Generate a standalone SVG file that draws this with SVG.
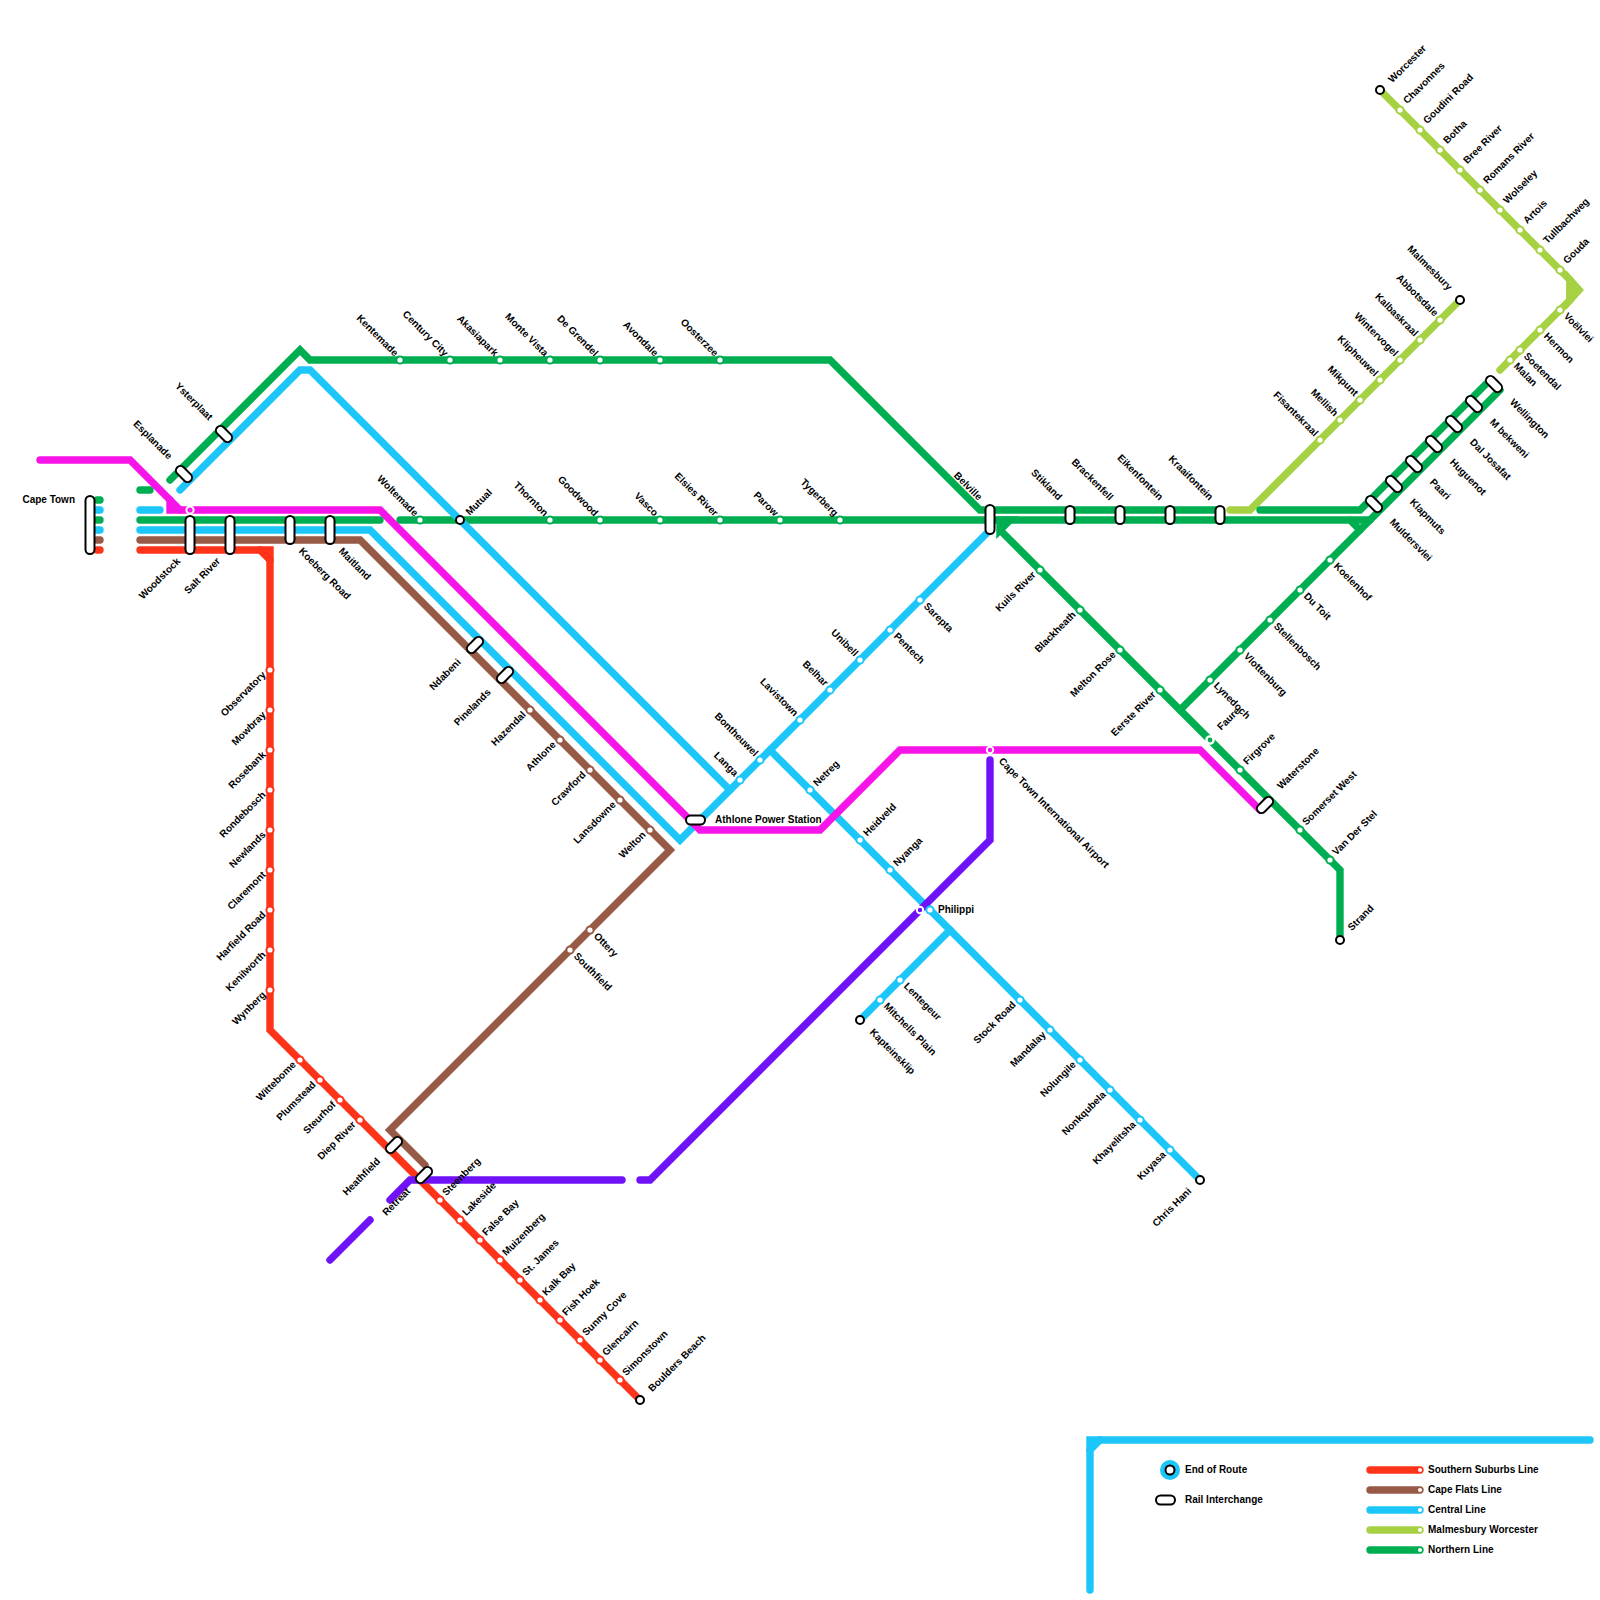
<svg xmlns="http://www.w3.org/2000/svg" width="1600" height="1600" viewBox="0 0 1600 1600">
<style>
text{font-family:"Liberation Sans",Arial,sans-serif;font-size:10px;font-weight:700;fill:#000;stroke:none;dominant-baseline:middle}
.e{text-anchor:end}
.l{fill:none;stroke-width:7.4;stroke-linecap:round;stroke-linejoin:miter}
.lime{stroke:#a5d143}.green{stroke:#00ae52}.blue{stroke:#1cc6f8}.brown{stroke:#965a46}.red{stroke:#ff331a}.mag{stroke:#f714e8}.pur{stroke:#7012f7}
.s{fill:#fff;stroke-width:2;r:3.6px}
.d{fill:#fff}
.t{fill:#fff;stroke:#000;stroke-width:2}
.p{fill:#fff;stroke:#000;stroke-width:2}
</style>
<rect width="1600" height="1600" fill="#fff"/>
<g id="connectors">
<path class="l lime" d="M1380 90L1570 280V300L1500 370"/>
<path class="l lime" d="M1570 280L1579 290L1570 300Z"/>
<path class="l lime" d="M1460 300L1250 510H1230"/>
<path class="l green" d="M170 480L300 350L310 360H830L980 510H1220"/>
<path class="l green" d="M1260 510H1360L1490 380"/>
<path class="l green" d="M400 520H1370M1350 520L1360 530"/>
<path class="l green" d="M140 520H380"/>
<path class="l green" d="M140 490H150"/>
<path class="l green" d="M1000 520V530L1010 520ZM1000 530L1340 870V940"/>
<path class="l green" d="M1180 710L1370 520L1500 390"/>
<path class="l blue" d="M180 490L300 370H310L730 790"/>
<path class="l blue" d="M140 530H370L680 840L990 530"/>
<path class="l blue" d="M140 510H160"/>
<path class="l blue" d="M770 750L1200 1180"/>
<path class="l blue" d="M950 930L860 1020"/>
<path class="l blue" d="M1090 1590V1440H1590"/>
<path class="l blue" d="M1090 1450L1100 1440"/>
<path class="l brown" d="M140 540H360L670 850L390 1130L425 1165"/>
<path class="l red" d="M140 550H270V1030L640 1400"/>
<path class="l red" d="M260 550L270 560"/>
<path class="l mag" d="M40 460H130L170 500V510H380L690 820L700 830H820L900 750H1200L1260 810"/>
<path class="l mag" d="M170 500L180 510"/>
<path class="l pur" d="M990 760V840L650 1180H640"/>
<path class="l pur" d="M622 1180H430"/>
<path class="l pur" d="M390 1200L410 1180H425"/>
<path class="l pur" d="M370 1220L330 1260"/>
<path class="l green" d="M97 500H100M97 520H100"/>
<path class="l blue" d="M97 510H100M97 530H100"/>
<path class="l brown" d="M97 540H100"/>
<path class="l red" d="M97 550H100"/>
</g>
<g id="cape-town"><rect class="p" x="85.5" y="496" width="9" height="58" rx="4.5"/><text class="e" x="75" y="500">Cape Town</text></g>
<g id="woodstock"><circle cx="190" cy="510" r="3.6" fill="#f714e8" stroke="#fff" stroke-width="2"/><rect class="p" x="185.5" y="516" width="9" height="38" rx="4.5"/><text class="e" transform="translate(179 560) rotate(-45)">Woodstock</text></g>
<g id="salt-river"><rect class="p" x="225.5" y="516" width="9" height="38" rx="4.5"/><text class="e" transform="translate(219 560) rotate(-45)">Salt River</text></g>
<g id="koeberg-road"><rect class="p" x="285.5" y="516" width="9" height="28" rx="4.5"/><text transform="translate(300 550) rotate(45)">Koeberg Road</text></g>
<g id="maitland"><rect class="p" x="325.5" y="516" width="9" height="28" rx="4.5"/><text transform="translate(340 550) rotate(45)">Maitland</text></g>
<g id="esplanade"><rect class="p" transform="translate(184 474) rotate(-45)" x="-4.5" y="-9.5" width="9" height="19" rx="4.5"/><text class="e" transform="translate(170 458) rotate(45)">Esplanade</text></g>
<g id="ysterplaat"><rect class="p" transform="translate(224 434) rotate(-45)" x="-4.5" y="-9.5" width="9" height="19" rx="4.5"/><text class="e" transform="translate(210.5 419) rotate(45)">Ysterplaat</text></g>
<g id="stations-northern-top" stroke="#00ae52">
<g id="kentemade"><circle class="s" cx="400" cy="360" r="3"/><text class="e" transform="translate(396 355) rotate(45)">Kentemade</text></g>
<g id="century-city"><circle class="s" cx="450" cy="360" r="3"/><text class="e" transform="translate(446 355) rotate(45)">Century City</text></g>
<g id="akasiapark"><circle class="s" cx="500" cy="360" r="3"/><text class="e" transform="translate(496 355) rotate(45)">Akasiapark</text></g>
<g id="monte-vista"><circle class="s" cx="550" cy="360" r="3"/><text class="e" transform="translate(546 355) rotate(45)">Monte Vista</text></g>
<g id="de-grendel"><circle class="s" cx="600" cy="360" r="3"/><text class="e" transform="translate(596 355) rotate(45)">De Grendel</text></g>
<g id="avondale"><circle class="s" cx="660" cy="360" r="3"/><text class="e" transform="translate(656 355) rotate(45)">Avondale</text></g>
<g id="oosterzee"><circle class="s" cx="720" cy="360" r="3"/><text class="e" transform="translate(716 355) rotate(45)">Oosterzee</text></g>
</g>
<g id="stations-northern-main" stroke="#00ae52">
<g id="woltemade"><circle class="s" cx="420" cy="520" r="3"/><text class="e" transform="translate(416 515) rotate(45)">Woltemade</text></g>
<g id="mutual"><circle class="t" cx="460" cy="520" r="4"/><text transform="translate(468 514) rotate(-45)">Mutual</text></g>
<g id="thornton"><circle class="s" cx="550" cy="520" r="3"/><text class="e" transform="translate(546 515) rotate(45)">Thornton</text></g>
<g id="goodwood"><circle class="s" cx="600" cy="520" r="3"/><text class="e" transform="translate(596 515) rotate(45)">Goodwood</text></g>
<g id="vasco"><circle class="s" cx="660" cy="520" r="3"/><text class="e" transform="translate(656 515) rotate(45)">Vasco</text></g>
<g id="elsies-river"><circle class="s" cx="720" cy="520" r="3"/><text class="e" transform="translate(716 515) rotate(45)">Elsies River</text></g>
<g id="parow"><circle class="s" cx="780" cy="520" r="3"/><text class="e" transform="translate(776 515) rotate(45)">Parow</text></g>
<g id="tygerberg"><circle class="s" cx="840" cy="520" r="3"/><text class="e" transform="translate(836 515) rotate(45)">Tygerberg</text></g>
<g id="belville"><rect class="p" x="985.5" y="505" width="9" height="29" rx="4.5"/><text class="e" transform="translate(980 499) rotate(45)">Belville</text></g>
<g id="stikland"><rect class="p" x="1065.5" y="506" width="9" height="18" rx="4.5"/><text class="e" transform="translate(1060 499) rotate(45)">Stikland</text></g>
<g id="brackenfell"><rect class="p" x="1115.5" y="506" width="9" height="18" rx="4.5"/><text class="e" transform="translate(1111 499) rotate(45)">Brackenfell</text></g>
<g id="eikenfontein"><rect class="p" x="1165.5" y="506" width="9" height="18" rx="4.5"/><text class="e" transform="translate(1161 499) rotate(45)">Eikenfontein</text></g>
<g id="kraaifontein"><rect class="p" x="1215.5" y="506" width="9" height="18" rx="4.5"/><text class="e" transform="translate(1211 499) rotate(45)">Kraaifontein</text></g>
</g>
<g id="stations-paarl">
<g id="muldersvlei"><rect class="p" transform="translate(1374 504) rotate(-45)" x="-4.5" y="-9.5" width="9" height="19" rx="4.5"/><text transform="translate(1391 521) rotate(45)">Muldersvlei</text></g>
<g id="klapmuts"><rect class="p" transform="translate(1394 484) rotate(-45)" x="-4.5" y="-9.5" width="9" height="19" rx="4.5"/><text transform="translate(1411 501) rotate(45)">Klapmuts</text></g>
<g id="paari"><rect class="p" transform="translate(1414 464) rotate(-45)" x="-4.5" y="-9.5" width="9" height="19" rx="4.5"/><text transform="translate(1431 481) rotate(45)">Paari</text></g>
<g id="huguenot"><rect class="p" transform="translate(1434 444) rotate(-45)" x="-4.5" y="-9.5" width="9" height="19" rx="4.5"/><text transform="translate(1451 461) rotate(45)">Huguenot</text></g>
<g id="dal-josafat"><rect class="p" transform="translate(1454 424) rotate(-45)" x="-4.5" y="-9.5" width="9" height="19" rx="4.5"/><text transform="translate(1471 441) rotate(45)">Dal Josafat</text></g>
<g id="m-bekweni"><rect class="p" transform="translate(1474 404) rotate(-45)" x="-4.5" y="-9.5" width="9" height="19" rx="4.5"/><text transform="translate(1491 421) rotate(45)">M bekweni</text></g>
<g id="wellington"><rect class="p" transform="translate(1494 384) rotate(-45)" x="-4.5" y="-9.5" width="9" height="19" rx="4.5"/><text transform="translate(1511 401) rotate(45)">Wellington</text></g>
</g>
<g id="stations-strand" stroke="#00ae52">
<g id="kuils-river"><circle class="s" cx="1040" cy="570" r="3"/><text class="e" transform="translate(1034.5 573.5) rotate(-45)">Kuils River</text></g>
<g id="blackheath"><circle class="s" cx="1080" cy="610" r="3"/><text class="e" transform="translate(1074.5 613.5) rotate(-45)">Blackheath</text></g>
<g id="melton-rose"><circle class="s" cx="1120" cy="650" r="3"/><text class="e" transform="translate(1114.5 653.5) rotate(-45)">Melton Rose</text></g>
<g id="eerste-river"><circle class="s" cx="1160" cy="690" r="3"/><text class="e" transform="translate(1154.5 693.5) rotate(-45)">Eerste River</text></g>
<g id="faure"><circle cx="1210" cy="740" r="3.6" fill="#00ae52" stroke="#fff" stroke-width="2.4"/><text transform="translate(1219.5 729) rotate(-45)">Faure</text></g>
<g id="firgrove"><circle class="s" cx="1240" cy="770" r="3"/><text transform="translate(1245.5 763.5) rotate(-45)">Firgrove</text></g>
<g id="waterstone"><rect class="p" transform="translate(1265 805) rotate(45)" x="-4.5" y="-9.5" width="9" height="19" rx="4.5"/><text transform="translate(1279.5 788) rotate(-45)">Waterstone</text></g>
<g id="somerset-west"><circle class="s" cx="1300" cy="830" r="3"/><text transform="translate(1304.5 824) rotate(-45)">Somerset West</text></g>
<g id="van-der-stel"><circle class="s" cx="1330" cy="860" r="3"/><text transform="translate(1334.5 854) rotate(-45)">Van Der Stel</text></g>
<g id="strand"><circle class="t" cx="1340" cy="940" r="4"/><text transform="translate(1350 929.5) rotate(-45)">Strand</text></g>
<g id="lynedoch"><circle class="s" cx="1210" cy="680" r="3"/><text transform="translate(1215 684.5) rotate(45)">Lynedoch</text></g>
<g id="vlottenburg"><circle class="s" cx="1240" cy="650" r="3"/><text transform="translate(1245 655) rotate(45)">Vlottenburg</text></g>
<g id="stellenbosch"><circle class="s" cx="1270" cy="620" r="3"/><text transform="translate(1275 625) rotate(45)">Stellenbosch</text></g>
<g id="du-toit"><circle class="s" cx="1300" cy="590" r="3"/><text transform="translate(1305 595) rotate(45)">Du Toit</text></g>
<g id="koelenhof"><circle class="s" cx="1330" cy="560" r="3"/><text transform="translate(1335 565) rotate(45)">Koelenhof</text></g>
</g>
<g id="stations-malmesbury" stroke="#a5d143">
<g id="malmesbury"><circle class="t" cx="1460" cy="300" r="4"/><text class="e" transform="translate(1450 289) rotate(45)">Malmesbury</text></g>
<g id="abbotsdale"><circle class="s" cx="1440" cy="320" r="3"/><text class="e" transform="translate(1436 315) rotate(45)">Abbotsdale</text></g>
<g id="kalbaskraal"><circle class="s" cx="1420" cy="340" r="3"/><text class="e" transform="translate(1416 335) rotate(45)">Kalbaskraal</text></g>
<g id="wintervogel"><circle class="s" cx="1400" cy="360" r="3"/><text class="e" transform="translate(1396 355) rotate(45)">Wintervogel</text></g>
<g id="klipheuwel"><circle class="s" cx="1380" cy="380" r="3"/><text class="e" transform="translate(1376 375) rotate(45)">Klipheuwel</text></g>
<g id="mikpunt"><circle class="s" cx="1360" cy="400" r="3"/><text class="e" transform="translate(1356 395) rotate(45)">Mikpunt</text></g>
<g id="mellish"><circle class="s" cx="1340" cy="420" r="3"/><text class="e" transform="translate(1336 415) rotate(45)">Mellish</text></g>
<g id="fisantekraal"><circle class="s" cx="1320" cy="440" r="3"/><text class="e" transform="translate(1316 435) rotate(45)">Fisantekraal</text></g>
</g>
<g id="stations-worcester" stroke="#a5d143">
<g id="worcester"><circle class="t" cx="1380" cy="90" r="4"/><text transform="translate(1390.5 81.5) rotate(-45)">Worcester</text></g>
<g id="chavonnes"><circle class="s" cx="1400" cy="110" r="3"/><text transform="translate(1405.5 102.5) rotate(-45)">Chavonnes</text></g>
<g id="goudini-road"><circle class="s" cx="1420" cy="130" r="3"/><text transform="translate(1425.5 122.5) rotate(-45)">Goudini Road</text></g>
<g id="botha"><circle class="s" cx="1440" cy="150" r="3"/><text transform="translate(1445.5 142.5) rotate(-45)">Botha</text></g>
<g id="bree-river"><circle class="s" cx="1460" cy="170" r="3"/><text transform="translate(1465.5 162.5) rotate(-45)">Bree River</text></g>
<g id="romans-river"><circle class="s" cx="1480" cy="190" r="3"/><text transform="translate(1485.5 182.5) rotate(-45)">Romans River</text></g>
<g id="wolseley"><circle class="s" cx="1500" cy="210" r="3"/><text transform="translate(1505.5 202.5) rotate(-45)">Wolseley</text></g>
<g id="artois"><circle class="s" cx="1520" cy="230" r="3"/><text transform="translate(1525.5 222.5) rotate(-45)">Artois</text></g>
<g id="tulbachweg"><circle class="s" cx="1540" cy="250" r="3"/><text transform="translate(1545.5 242.5) rotate(-45)">Tullbachweg</text></g>
<g id="gouda"><circle class="s" cx="1560" cy="270" r="3"/><text transform="translate(1565.5 262.5) rotate(-45)">Gouda</text></g>
<g id="voelvlei"><circle class="s" cx="1560" cy="310" r="3"/><text transform="translate(1565 315) rotate(45)">Voëlvlei</text></g>
<g id="hermon"><circle class="s" cx="1540" cy="330" r="3"/><text transform="translate(1545 335) rotate(45)">Hermon</text></g>
<g id="soetendal"><circle class="s" cx="1520" cy="350" r="3"/><text transform="translate(1525 355) rotate(45)">Soetendal</text></g>
<g id="malan"><circle class="s" cx="1510" cy="360" r="3"/><text transform="translate(1515 365) rotate(45)">Malan</text></g>
</g>
<g id="stations-central" stroke="#1cc6f8">
<g id="ndabeni"><rect class="p" transform="translate(475 645) rotate(45)" x="-4.5" y="-9.5" width="9" height="19" rx="4.5"/><text class="e" transform="translate(459.5 661) rotate(-45)">Ndabeni</text></g>
<g id="pinelands"><rect class="p" transform="translate(505 675) rotate(45)" x="-4.5" y="-9.5" width="9" height="19" rx="4.5"/><text class="e" transform="translate(489.5 691) rotate(-45)">Pinelands</text></g>
<g id="athlone-power"><rect class="p" x="686" y="815.5" width="19" height="9" rx="4.5"/><text x="715" y="820">Athlone Power Station</text></g>
<g id="langa"><circle class="s" cx="740" cy="780" r="3"/><text class="e" transform="translate(736 775) rotate(45)">Langa</text></g>
<g id="bontheuwel"><circle class="s" cx="760" cy="760" r="3"/><text class="e" transform="translate(756 755) rotate(45)">Bontheuwel</text></g>
<g id="lavistown"><circle class="s" cx="800" cy="720" r="3"/><text class="e" transform="translate(796 715) rotate(45)">Lavistown</text></g>
<g id="belhar"><circle class="s" cx="830" cy="690" r="3"/><text class="e" transform="translate(826 685) rotate(45)">Belhar</text></g>
<g id="unibell"><circle class="s" cx="860" cy="660" r="3"/><text class="e" transform="translate(856 655) rotate(45)">Unibell</text></g>
<g id="pentech"><circle class="s" cx="890" cy="630" r="3"/><text transform="translate(895 635) rotate(45)">Pentech</text></g>
<g id="sarepta"><circle class="s" cx="920" cy="600" r="3"/><text transform="translate(925 605) rotate(45)">Sarepta</text></g>
<g id="netreg"><circle class="s" cx="810" cy="790" r="3"/><text transform="translate(815.5 785) rotate(-45)">Netreg</text></g>
<g id="heideveld"><circle class="s" cx="860" cy="840" r="3"/><text transform="translate(865.5 835) rotate(-45)">Heidveld</text></g>
<g id="nyanga"><circle class="s" cx="890" cy="870" r="3"/><text transform="translate(895.5 865) rotate(-45)">Nyanga</text></g>
<g id="philippi"><circle cx="920" cy="910" r="3.2" fill="#7012f7" stroke="#fff" stroke-width="2"/><circle class="s" cx="930" cy="910" r="3"/><text x="938" y="910">Philippi</text></g>
<g id="stock-road"><circle class="s" cx="1020" cy="1000" r="3"/><text class="e" transform="translate(1014.5 1003.5) rotate(-45)">Stock Road</text></g>
<g id="mandalay"><circle class="s" cx="1050" cy="1030" r="3"/><text class="e" transform="translate(1044.5 1033.5) rotate(-45)">Mandalay</text></g>
<g id="nolungile"><circle class="s" cx="1080" cy="1060" r="3"/><text class="e" transform="translate(1074.5 1063.5) rotate(-45)">Nolungile</text></g>
<g id="nonkqubela"><circle class="s" cx="1110" cy="1090" r="3"/><text class="e" transform="translate(1104.5 1093.5) rotate(-45)">Nonkqubela</text></g>
<g id="khayelitsha"><circle class="s" cx="1140" cy="1120" r="3"/><text class="e" transform="translate(1134.5 1123.5) rotate(-45)">Khayelitsha</text></g>
<g id="kuyasa"><circle class="s" cx="1170" cy="1150" r="3"/><text class="e" transform="translate(1164.5 1153.5) rotate(-45)">Kuyasa</text></g>
<g id="chris-hani"><circle class="t" cx="1200" cy="1180" r="4"/><text class="e" transform="translate(1190 1190) rotate(-45)">Chris Hani</text></g>
<g id="lentegeur"><circle class="s" cx="900" cy="980" r="3"/><text transform="translate(905 985) rotate(45)">Lentegeur</text></g>
<g id="mitchells-plain"><circle class="s" cx="880" cy="1000" r="3"/><text transform="translate(885 1005) rotate(45)">Mitchells Plain</text></g>
<g id="kapteinsklip"><circle class="t" cx="860" cy="1020" r="4"/><text transform="translate(871 1031) rotate(45)">Kapteinsklip</text></g>
</g>
<g id="stations-flats" stroke="#965a46">
<g id="hazendal"><circle class="s" cx="530" cy="710" r="3"/><text class="e" transform="translate(524.5 713.5) rotate(-45)">Hazendal</text></g>
<g id="athlone"><circle class="s" cx="560" cy="740" r="3"/><text class="e" transform="translate(554.5 743.5) rotate(-45)">Athlone</text></g>
<g id="crawford"><circle class="s" cx="590" cy="770" r="3"/><text class="e" transform="translate(584.5 773.5) rotate(-45)">Crawford</text></g>
<g id="lansdowne"><circle class="s" cx="620" cy="800" r="3"/><text class="e" transform="translate(614.5 803.5) rotate(-45)">Lansdowne</text></g>
<g id="welton"><circle class="s" cx="650" cy="830" r="3"/><text class="e" transform="translate(644.5 833.5) rotate(-45)">Welton</text></g>
<g id="ottery"><circle class="s" cx="590" cy="930" r="3"/><text transform="translate(595 935) rotate(45)">Ottery</text></g>
<g id="southfield"><circle class="s" cx="570" cy="950" r="3"/><text transform="translate(575 955) rotate(45)">Southfield</text></g>
</g>
<g id="stations-southern" stroke="#ff331a">
<g id="observatory"><circle class="s" cx="270" cy="670" r="3"/><text class="e" transform="translate(264.5 673.5) rotate(-45)">Observatory</text></g>
<g id="mowbray"><circle class="s" cx="270" cy="710" r="3"/><text class="e" transform="translate(264.5 713.5) rotate(-45)">Mowbray</text></g>
<g id="rosebank"><circle class="s" cx="270" cy="750" r="3"/><text class="e" transform="translate(264.5 753.5) rotate(-45)">Rosebank</text></g>
<g id="rondebosch"><circle class="s" cx="270" cy="790" r="3"/><text class="e" transform="translate(264.5 793.5) rotate(-45)">Rondebosch</text></g>
<g id="newlands"><circle class="s" cx="270" cy="830" r="3"/><text class="e" transform="translate(264.5 833.5) rotate(-45)">Newlands</text></g>
<g id="claremont"><circle class="s" cx="270" cy="870" r="3"/><text class="e" transform="translate(264.5 873.5) rotate(-45)">Claremont</text></g>
<g id="harfield-road"><circle class="s" cx="270" cy="910" r="3"/><text class="e" transform="translate(264.5 913.5) rotate(-45)">Harfield Road</text></g>
<g id="kenilworth"><circle class="s" cx="270" cy="950" r="3"/><text class="e" transform="translate(264.5 953.5) rotate(-45)">Kenilworth</text></g>
<g id="wynberg"><circle class="s" cx="270" cy="990" r="3"/><text class="e" transform="translate(264.5 993.5) rotate(-45)">Wynberg</text></g>
<g id="wittebome"><circle class="s" cx="300" cy="1060" r="3"/><text class="e" transform="translate(294.5 1063.5) rotate(-45)">Wittebome</text></g>
<g id="plumstead"><circle class="s" cx="320" cy="1080" r="3"/><text class="e" transform="translate(314.5 1083.5) rotate(-45)">Plumstead</text></g>
<g id="steurhof"><circle class="s" cx="340" cy="1100" r="3"/><text class="e" transform="translate(334.5 1103.5) rotate(-45)">Steurhof</text></g>
<g id="diep-river"><circle class="s" cx="360" cy="1120" r="3"/><text class="e" transform="translate(354.5 1123.5) rotate(-45)">Diep River</text></g>
<g id="heathfield"><rect class="p" transform="translate(394 1145) rotate(45)" x="-4.5" y="-9.5" width="9" height="19" rx="4.5"/><text class="e" transform="translate(379 1160) rotate(-45)">Heathfield</text></g>
<g id="retreat"><rect class="p" transform="translate(424 1175) rotate(45)" x="-4.5" y="-9.5" width="9" height="19" rx="4.5"/><text class="e" transform="translate(409 1190) rotate(-45)">Retreat</text></g>
<g id="steenberg"><circle class="s" cx="440" cy="1200" r="3"/><text transform="translate(444.5 1194.5) rotate(-45)">Steenberg</text></g>
<g id="lakeside"><circle class="s" cx="460" cy="1220" r="3"/><text transform="translate(464.5 1214.5) rotate(-45)">Lakeside</text></g>
<g id="false-bay"><circle class="s" cx="480" cy="1240" r="3"/><text transform="translate(484.5 1234.5) rotate(-45)">False Bay</text></g>
<g id="muizenberg"><circle class="s" cx="500" cy="1260" r="3"/><text transform="translate(504.5 1254.5) rotate(-45)">Muizenberg</text></g>
<g id="st-james"><circle class="s" cx="520" cy="1280" r="3"/><text transform="translate(524.5 1274.5) rotate(-45)">St. James</text></g>
<g id="kalk-bay"><circle class="s" cx="540" cy="1300" r="3"/><text transform="translate(544.5 1294.5) rotate(-45)">Kalk Bay</text></g>
<g id="fish-hoek"><circle class="s" cx="560" cy="1320" r="3"/><text transform="translate(564.5 1314.5) rotate(-45)">Fish Hoek</text></g>
<g id="sunny-cove"><circle class="s" cx="580" cy="1340" r="3"/><text transform="translate(584.5 1334.5) rotate(-45)">Sunny Cove</text></g>
<g id="glencairn"><circle class="s" cx="600" cy="1360" r="3"/><text transform="translate(604.5 1354.5) rotate(-45)">Glencairn</text></g>
<g id="simonstown"><circle class="s" cx="620" cy="1380" r="3"/><text transform="translate(624.5 1374.5) rotate(-45)">Simonstown</text></g>
<g id="boulders-beach"><circle class="t" cx="640" cy="1400" r="4"/><text transform="translate(650.5 1390.5) rotate(-45)">Boulders Beach</text></g>
</g>
<g id="cape-town-airport"><circle cx="990" cy="750" r="3.2" fill="#f714e8" stroke="#fff" stroke-width="2"/><text transform="translate(1000 760) rotate(45)">Cape Town International Airport</text></g>
<g id="legend">
<circle cx="1170" cy="1470" r="10" fill="#1cc6f8"/><circle class="t" cx="1170" cy="1470" r="4.5"/>
<text x="1185" y="1470">End of Route</text>
<rect class="p" x="1156" y="1495.5" width="19" height="9" rx="4.5"/>
<text x="1185" y="1500">Rail Interchange</text>
<path class="l red" d="M1370 1470H1420"/><circle class="d" cx="1420" cy="1470" r="2"/><text x="1428" y="1470">Southern Suburbs Line</text>
<path class="l brown" d="M1370 1490H1420"/><circle class="d" cx="1420" cy="1490" r="2"/><text x="1428" y="1490">Cape Flats Line</text>
<path class="l blue" d="M1370 1510H1420"/><circle class="d" cx="1420" cy="1510" r="2"/><text x="1428" y="1510">Central Line</text>
<path class="l lime" d="M1370 1530H1420"/><circle class="d" cx="1420" cy="1530" r="2"/><text x="1428" y="1530">Malmesbury Worcester</text>
<path class="l green" d="M1370 1550H1420"/><circle class="d" cx="1420" cy="1550" r="2"/><text x="1428" y="1550">Northern Line</text>
</g>
</svg>
